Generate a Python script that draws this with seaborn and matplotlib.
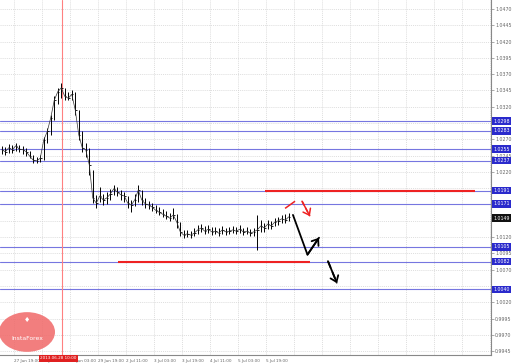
import matplotlib
matplotlib.use("Agg")
import matplotlib.pyplot as plt
import seaborn as sns
import numpy as np
import pandas as pd
from matplotlib.patches import Circle

sns.set_style("white")
plt.rcParams['font.family'] = ['DejaVu Sans']

# ---- data: 2-hour bars (hour index of bar centre = 1 + 2*i)
bar_close = [1.0254, 1.0251, 1.0257, 1.0254, 1.0260, 1.0255, 1.0254, 1.0251, 1.0244, 1.0238,
             1.0237, 1.0241, 1.0269, 1.0282, 1.0303, 1.0330, 1.0343, 1.0349, 1.0336, 1.0333,
             1.0339, 1.0315, 1.0277, 1.0257, 1.0254, 1.0231, 1.0180, 1.0172, 1.0183, 1.0177,
             1.0180, 1.0186, 1.0194, 1.0189, 1.0185, 1.0183, 1.0172, 1.0169, 1.0177, 1.0192,
             1.0177, 1.0171, 1.0169, 1.0166, 1.0161, 1.0158, 1.0155, 1.0152, 1.0149, 1.0154,
             1.0143, 1.0128, 1.0123, 1.0125, 1.0123, 1.0126, 1.0131, 1.0134, 1.0129, 1.0132,
             1.0128, 1.0129, 1.0126, 1.0131, 1.0128, 1.0129, 1.0131, 1.0129, 1.0132, 1.0128,
             1.0129, 1.0126, 1.0128, 1.0131, 1.0137, 1.0134, 1.0140, 1.0137, 1.0143, 1.0145,
             1.0148, 1.0146, 1.0151]
bar_high = [1.0260, 1.0258, 1.0263, 1.0261, 1.0264, 1.0261, 1.0260, 1.0257, 1.0252, 1.0246,
            1.0243, 1.0246, 1.0274, 1.0287, 1.0307, 1.0336, 1.0349, 1.0356, 1.0349, 1.0343,
            1.0346, 1.0343, 1.0315, 1.0282, 1.0264, 1.0257, 1.0223, 1.0185, 1.0197, 1.0186,
            1.0189, 1.0194, 1.0200, 1.0197, 1.0192, 1.0189, 1.0183, 1.0177, 1.0186, 1.0200,
            1.0192, 1.0180, 1.0175, 1.0172, 1.0169, 1.0166, 1.0163, 1.0160, 1.0157, 1.0165,
            1.0155, 1.0143, 1.0131, 1.0131, 1.0129, 1.0134, 1.0138, 1.0140, 1.0137, 1.0138,
            1.0135, 1.0135, 1.0134, 1.0137, 1.0134, 1.0135, 1.0137, 1.0135, 1.0138, 1.0134,
            1.0135, 1.0132, 1.0134, 1.0154, 1.0146, 1.0141, 1.0146, 1.0145, 1.0149, 1.0151,
            1.0154, 1.0155, 1.0157]
bar_low = [1.0247, 1.0246, 1.0249, 1.0249, 1.0252, 1.0251, 1.0247, 1.0244, 1.0241, 1.0234,
           1.0234, 1.0235, 1.0238, 1.0264, 1.0277, 1.0300, 1.0324, 1.0333, 1.0330, 1.0330,
           1.0330, 1.0307, 1.0269, 1.0251, 1.0243, 1.0215, 1.0172, 1.0165, 1.0174, 1.0169,
           1.0171, 1.0177, 1.0185, 1.0183, 1.0177, 1.0174, 1.0165, 1.0158, 1.0168, 1.0174,
           1.0169, 1.0165, 1.0163, 1.0160, 1.0157, 1.0154, 1.0151, 1.0148, 1.0145, 1.0148,
           1.0134, 1.0122, 1.0119, 1.0120, 1.0119, 1.0122, 1.0125, 1.0128, 1.0125, 1.0126,
           1.0123, 1.0125, 1.0122, 1.0125, 1.0123, 1.0125, 1.0126, 1.0125, 1.0126, 1.0123,
           1.0125, 1.0122, 1.0122, 1.0100, 1.0128, 1.0128, 1.0132, 1.0132, 1.0137, 1.0138,
           1.0141, 1.0141, 1.0145]
bar_hour = [1 + 2 * i for i in range(len(bar_close))]

level_lines = [1.0298, 1.0283, 1.0255, 1.0237, 1.0191, 1.0171, 1.0105, 1.0082, 1.0040]
current_price = 1.0149
upper_red = 1.0191
upper_red_span = [151.4, 271.4]
lower_red = 1.0082
lower_red_span = [67.4, 177.1]
marker_hour = 35.4
marker_label = "2013.06.28 10:00"

# forecast drawings (hour, price)
fc_black_x = [167.4, 175.7, 182.3]
fc_black_y = [1.0154, 1.0093, 1.0119]
fc_black_dash_x = [187.4, 192.6]
fc_black_dash_y = [1.0083, 1.0049]
fc_red_x = [162.9, 168.6]
fc_red_y = [1.0164, 1.0175]
fc_red_dash_x = [172.6, 177.1]
fc_red_dash_y = [1.0175, 1.0152]

price_ticks = [1.0470, 1.0445, 1.0420, 1.0395, 1.0370, 1.0345, 1.0320, 1.0295, 1.0270, 1.0245,
               1.0220, 1.0195, 1.0170, 1.0145, 1.0120, 1.0095, 1.0070, 1.0045, 1.0020, 0.9995,
               0.9970, 0.9945]
time_ticks = [-8, 8, 24, 40, 56, 72, 88, 104, 120, 136, 152]
time_labels = ["27 Jun 03:00", "27 Jun 19:00", "28 Jun 11:00", "29 Jun 03:00", "29 Jun 19:00",
               "2 Jul 11:00", "3 Jul 03:00", "3 Jul 19:00", "4 Jul 11:00", "5 Jul 03:00",
               "5 Jul 19:00"]

# ---- figure
W, H = 512, 363
XMAX = 491 / 1.75
YMIN, YMAX = 0.99390, 1.04838
fig = plt.figure(figsize=(W / 100, H / 100), dpi=100)
fig.patch.set_facecolor("white")
ax = fig.add_axes([0, 8 / H, 491 / W, 355 / H])

# grid
grid_x = np.arange(8, 300, 16)
for gx in grid_x:
    ax.axvline(gx, color="#d2d2d2", lw=0.5, ls=(0, (1.5, 1.5)), zorder=0)
for gy in price_ticks:
    ax.axhline(gy, color="#d2d2d2", lw=0.5, ls=(0, (1.5, 1.5)), zorder=0)

# level lines
for lv in level_lines:
    ax.axhline(lv, color="#7676e0", lw=0.8, zorder=1)
ax.hlines(upper_red, upper_red_span[0], upper_red_span[1], color="#ee2222", lw=1.5, zorder=2)
ax.hlines(lower_red, lower_red_span[0], lower_red_span[1], color="#ee2222", lw=1.5, zorder=2)
ax.axvline(marker_hour, color="#ff8080", lw=0.8, zorder=1)

# bars
bars = pd.DataFrame({"hour": bar_hour, "close": bar_close, "high": bar_high, "low": bar_low})
ax.vlines(bars["hour"], bars["low"], bars["high"], color="black", lw=0.7, zorder=3)
ax.hlines(bars["close"], bars["hour"], bars["hour"] + 0.8, color="black", lw=0.6, zorder=3)
sns.lineplot(data=bars, x="hour", y="close", color="#333333", lw=0.5, ax=ax, zorder=3)

# forecast arrows
ap = dict(shrinkA=0, shrinkB=0)
sns.lineplot(x=fc_black_x, y=fc_black_y, color="black", lw=1.3, ax=ax, sort=False)
ax.annotate("", xy=(fc_black_x[-1], fc_black_y[-1]), xytext=(fc_black_x[-2], fc_black_y[-2]),
            arrowprops=dict(arrowstyle="->,head_length=0.4,head_width=0.3", color="black",
                            lw=1.3, **ap))
ax.plot(fc_black_dash_x, fc_black_dash_y, color="black", lw=1.3, ls=(0, (4, 2.5)))
ax.annotate("", xy=(fc_black_dash_x[-1], fc_black_dash_y[-1]),
            xytext=(fc_black_dash_x[-2], fc_black_dash_y[-2]),
            arrowprops=dict(arrowstyle="->,head_length=0.4,head_width=0.3", color="black",
                            lw=1.3, alpha=1, **ap))
ax.plot(fc_red_x, fc_red_y, color="#ee2222", lw=1.1, solid_capstyle="butt")
ax.plot(fc_red_dash_x, fc_red_dash_y, color="#ee2222", lw=1.1, ls=(0, (3, 2)))
ax.annotate("", xy=(fc_red_dash_x[-1], fc_red_dash_y[-1]),
            xytext=(fc_red_dash_x[-2], fc_red_dash_y[-2]),
            arrowprops=dict(arrowstyle="->,head_length=0.4,head_width=0.3", color="#ee2222",
                            lw=1.1, **ap))

# axes styling
for s in ["top", "left"]:
    ax.spines[s].set_visible(False)
ax.spines["right"].set_color("#888888")
ax.spines["bottom"].set_color("#888888")
ax.spines["right"].set_linewidth(0.8)
ax.spines["bottom"].set_linewidth(0.8)
ax.set_xlabel("")
ax.set_ylabel("")

ax.yaxis.tick_right()
highlight = level_lines + [current_price]
ylabels = []
for t in price_ticks:
    ylabels.append("" if min(abs(t - h) for h in highlight) < 0.0006 else f"{t:.4f}")
ax.set_yticks(price_ticks)
ax.set_yticklabels(ylabels, fontsize=3.4, color="#666666")
ax.tick_params(axis="y", length=2, width=0.5, color="#888888", pad=1)

ax.set_xticks(time_ticks)
ax.set_xticklabels(time_labels, fontsize=3.0, color="#666666", ha="left")
ax.tick_params(axis="x", length=2, width=0.5, color="#888888", pad=1)

ax.set_xlim(0, XMAX)
ax.set_ylim(YMIN, YMAX)

# highlighted price labels
trans = ax.get_yaxis_transform()
for lv in level_lines:
    ax.text(1.004, lv, f"{lv:.4f}", transform=trans, fontsize=3.4, color="white",
            va="center", ha="left", clip_on=False,
            bbox=dict(boxstyle="square,pad=0.25", fc="#2a2acc", ec="none"))
ax.text(1.004, current_price, f"{current_price:.4f}", transform=trans, fontsize=3.4,
        color="white", va="center", ha="left", clip_on=False,
        bbox=dict(boxstyle="square,pad=0.25", fc="#111111", ec="none"))

# marker time label
ax.text(marker_hour - 2, -0.004, marker_label, transform=ax.get_xaxis_transform(),
        fontsize=3.0, color="white", va="top", ha="center", clip_on=False,
        bbox=dict(boxstyle="square,pad=0.3", fc="#e02020", ec="none"), zorder=5)

# watermark logo
logo = Circle((27 / W, 1 - 332 / H), 28 / W, transform=fig.transFigure,
              fc="#f06868", ec="none", alpha=0.85, zorder=4)
fig.patches.append(logo)
fig.text(27 / W, 1 - 338 / H, "InstaForex", fontsize=4.4, color="white",
         ha="center", va="center", zorder=5)
fig.text(27 / W, 1 - 320 / H, "\u2666", fontsize=5, color="white",
         ha="center", va="center", zorder=5)

fig.savefig("out.png", dpi=100, facecolor="white")
